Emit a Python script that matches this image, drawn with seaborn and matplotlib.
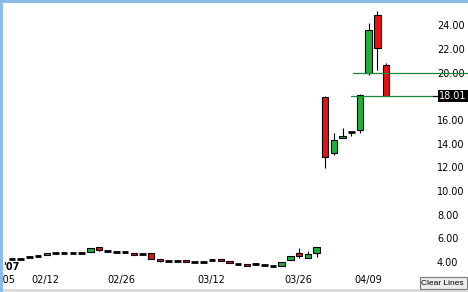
import numpy as np
import pandas as pd
import seaborn as sns
import matplotlib
matplotlib.use("Agg")
import matplotlib.pyplot as plt
from matplotlib.patches import Rectangle

# ---------------- data ----------------
opens = [4.23, 4.28, 4.45, 4.51, 4.59, 4.74, 4.74, 4.79, 4.79, 4.82,
         5.24, 4.96, 4.87, 4.82, 4.74, 4.65, 4.74, 4.23, 4.11, 4.11,
         4.17, 4.03, 4.03, 4.17, 4.25, 4.08, 3.83, 3.81, 3.83, 3.75,
         3.66, 3.69, 4.14, 4.74, 4.36, 4.79, 17.92, 13.24, 14.46, 14.98,
         15.16, 20.00, 24.88, 20.65]
highs = [4.23, 4.28, 4.50, 4.55, 4.76, 4.74, 4.74, 4.79, 4.84, 5.16,
         5.24, 4.96, 4.90, 4.82, 4.74, 4.68, 4.74, 4.23, 4.11, 4.14,
         4.17, 4.03, 4.03, 4.25, 4.25, 4.08, 3.83, 3.81, 3.88, 3.75,
         3.66, 3.97, 4.48, 5.21, 4.96, 5.29, 18.03, 14.88, 15.30, 14.98,
         18.18, 24.23, 25.22, 20.85]
lows = [4.23, 4.28, 4.42, 4.48, 4.59, 4.74, 4.74, 4.79, 4.76, 4.82,
        4.93, 4.96, 4.84, 4.82, 4.59, 4.60, 4.23, 3.97, 4.11, 4.08,
        4.03, 4.03, 4.03, 4.08, 4.08, 3.92, 3.83, 3.66, 3.78, 3.75,
        3.60, 3.69, 4.14, 4.36, 4.31, 4.45, 11.97, 13.05, 14.46, 14.65,
        14.88, 19.80, 20.23, 18.01]
closes = [4.23, 4.28, 4.45, 4.51, 4.74, 4.74, 4.74, 4.79, 4.79, 5.16,
          5.01, 4.96, 4.87, 4.82, 4.59, 4.65, 4.23, 4.08, 4.11, 4.11,
          4.03, 4.03, 4.03, 4.17, 4.08, 3.92, 3.83, 3.66, 3.83, 3.75,
          3.66, 3.97, 4.48, 4.53, 4.68, 5.29, 12.90, 14.31, 14.65, 14.98,
          18.12, 23.61, 22.11, 18.01]

date_labels = ["02/05", "02/12", "02/26", "03/12", "03/26", "04/09"]
date_positions = [-1.2, 3.8, 12.6, 22.9, 32.9, 40.9]
y_ticks = [4, 6, 8, 10, 12, 14, 16, 20, 22, 24]
line_levels = [20.00, 18.01]
line_starts = [39.2, 39.0]
last_price = 18.01
year_label = "'07"

df = pd.DataFrame({"open": opens, "high": highs, "low": lows, "close": closes})
df["idx"] = np.arange(len(df))

# ---------------- style ----------------
sns.set_theme(style="white")
plt.rcParams['font.family'] = ['DejaVu Sans']

W, H = 468, 292
fig = plt.figure(figsize=(W / 100, H / 100), dpi=100)
fig.patch.set_facecolor("white")

ax_left_px, ax_right_px = 0.7, 433
ax_top_px, ax_bot_px = 3, 270
ax = fig.add_axes([ax_left_px / W, 1 - ax_bot_px / H,
                   (ax_right_px - ax_left_px) / W, (ax_bot_px - ax_top_px) / H])
ax.set_facecolor("white")

xmin, xmax = -1.3, 48.39
ymin, ymax = 3.324, 25.89
ax.set_xlim(xmin, xmax)
ax.set_ylim(ymin, ymax)

GREEN = "#1fb03c"
RED = "#e81212"
LINE_GREEN = "#13893a"

# wicks
ax.vlines(df["idx"], df["low"], df["high"], color="black", linewidth=0.8, zorder=2)

# bodies
width = 0.75
for _, r in df.iterrows():
    o, c = r["open"], r["close"]
    if abs(c - o) < 1e-9:
        ax.hlines(o, r["idx"] - width / 2, r["idx"] + width / 2,
                  color="black", linewidth=2.0, zorder=3)
    else:
        col = GREEN if c > o else RED
        ax.bar(r["idx"], c - o, bottom=o, width=width, color=col,
               edgecolor="black", linewidth=0.8, zorder=3)

# user drawn horizontal lines
x_far = (468 - 12) / 8.7
ax.plot([line_starts[0], x_far], [line_levels[0]] * 2, color=LINE_GREEN,
        linewidth=0.9, clip_on=False, zorder=4)
ax.plot([line_starts[1], xmax], [line_levels[1]] * 2, color=LINE_GREEN,
        linewidth=0.9, clip_on=False, zorder=4)
ax.plot([xmax, xmax + 5 / 8.7], [last_price] * 2, color="black",
        linewidth=0.9, clip_on=False, zorder=4)

# axes ticks
ax.yaxis.tick_right()
ax.set_yticks(y_ticks)
ax.set_yticklabels([f"{v:.2f}" for v in y_ticks])
ax.set_xticks(date_positions)
ax.set_xticklabels(date_labels)
ax.tick_params(axis="y", length=0, pad=2.9, labelsize=7, colors="black")
ax.tick_params(axis="x", length=0, pad=3.4, labelsize=7, colors="black")
for s in ax.spines.values():
    s.set_visible(False)
ax.grid(False)

# last price box
ax.annotate(f"{last_price:.2f}", xy=(1, last_price),
            xycoords=("axes fraction", "data"),
            xytext=(6, 0), textcoords="offset pixels",
            ha="left", va="center", fontsize=7, color="white",
            bbox=dict(boxstyle="square,pad=0.12", fc="black", ec="none"),
            annotation_clip=False, zorder=6)

# year label
fig.text(3 / W, 1 - 267 / H, year_label, fontsize=7, fontweight="bold",
         ha="left", va="center", color="black")

# bottom strip
fig.add_artist(Rectangle((0, 0), 1, 3.5 / H, transform=fig.transFigure,
                         facecolor="#dcdcdc", edgecolor="none", zorder=8))
# Clear Lines button
fig.add_artist(Rectangle((420 / W, 1 - 289 / H), 47 / W, 12 / H,
                         transform=fig.transFigure, facecolor="#ececec",
                         edgecolor="#7a7a7a", linewidth=0.8, zorder=9))
fig.text(442.5 / W, 1 - 283.5 / H, "Clear Lines", fontsize=6,
         family=["Liberation Sans", "DejaVu Sans"],
         ha="center", va="center", color="black", zorder=10)

# blue frame (top and left)
fig.add_artist(Rectangle((0, 1 - 3 / H), 1, 3 / H, transform=fig.transFigure,
                         facecolor="#8dbbe8", edgecolor="none", zorder=12))
fig.add_artist(Rectangle((0, 0), 3 / W, 1, transform=fig.transFigure,
                         facecolor="#8dbbe8", edgecolor="none", zorder=12))

fig.savefig("out.png", dpi=100, facecolor="white")
